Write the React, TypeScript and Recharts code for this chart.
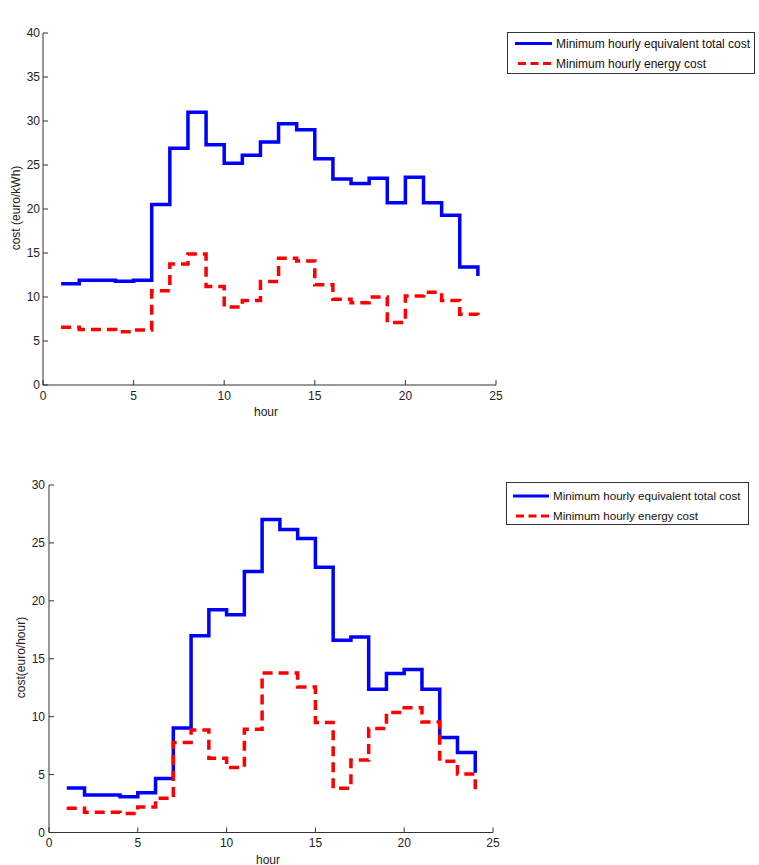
import { LineChart, Line, XAxis, YAxis, Label } from 'recharts';

const FONT = '"Liberation Sans", Arial, sans-serif';

// hours 1..24 (stairs: value i holds from hour i to hour i+1)
const hours = [1, 2, 3, 4, 5, 6, 7, 8, 9, 10, 11, 12, 13, 14, 15, 16, 17, 18, 19, 20, 21, 22, 23, 24];

const springTotal = [11.5, 11.9, 11.9, 11.8, 11.9, 20.5, 26.9, 31.0, 27.3, 25.2, 26.1, 27.6, 29.7, 29.0, 25.7, 23.4, 22.9, 23.5, 20.7, 23.6, 20.7, 19.3, 13.4, 12.4];
const springEnergy = [6.55, 6.3, 6.3, 6.05, 6.25, 10.7, 13.75, 14.9, 11.2, 8.85, 9.6, 11.75, 14.4, 14.1, 11.4, 9.75, 9.35, 10.0, 7.1, 10.1, 10.55, 9.6, 8.05, 7.5];

const summerTotal = [3.84, 3.23, 3.23, 3.09, 3.43, 4.67, 9.03, 16.98, 19.22, 18.79, 22.54, 27.03, 26.16, 25.39, 22.91, 16.59, 16.88, 12.37, 13.72, 14.07, 12.37, 8.2, 6.91, 5.16];
const summerEnergy = [2.09, 1.74, 1.74, 1.65, 2.2, 2.95, 7.78, 8.84, 6.4, 5.62, 8.92, 13.78, 13.78, 12.57, 9.5, 3.81, 6.25, 8.98, 10.36, 10.76, 9.55, 6.16, 5.04, 3.58];

const xTicks = [0, 5, 10, 15, 20, 25];
const springTicks = [0, 5, 10, 15, 20, 25, 30, 35, 40];
const summerTicks = [0, 5, 10, 15, 20, 25, 30];

const seriesNames = ['Minimum hourly equivalent total cost', 'Minimum hourly energy cost'];

const BLUE = '#0000ff';
const RED = '#ff0000';
const AXIS = '#333333';

const fixedText = (x: number, y: number, text: string, rotate = false) => () => (
  <text
    x={x}
    y={y}
    textAnchor="middle"
    fontSize={12}
    fontFamily={FONT}
    fill="#222"
    transform={rotate ? `rotate(-90, ${x}, ${y})` : undefined}
  >
    {text}
  </text>
);

interface PanelProps {
  top: number;
  height: number;
  margin: { top: number; right: number; bottom: number; left: number };
  yWidth: number;
  yTickMargin: number;
  total: number[];
  energy: number[];
  yMax: number;
  yTicks: number[];
  title: [number, number, string];
  xLabel: [number, number, string];
  yLabel: [number, number, string];
}

function Panel(p: PanelProps) {
  const data = hours.map((h, i) => ({ hour: h, total: p.total[i], energy: p.energy[i] }));
  const tickStyle = { fontSize: 12, fill: '#222', fontFamily: FONT };
  return (
    <div style={{ position: 'absolute', left: 0, top: p.top }}>
      <LineChart width={759} height={p.height} data={data} margin={p.margin}>
        <XAxis
          dataKey="hour"
          type="number"
          domain={[0, 25]}
          ticks={xTicks}
          height={30}
          tick={tickStyle}
          tickSize={-5}
          tickMargin={11}
          axisLine={{ stroke: AXIS }}
          tickLine={{ stroke: AXIS }}
        >
          <Label content={fixedText(p.xLabel[0], p.xLabel[1], p.xLabel[2])} />
        </XAxis>
        <XAxis
          xAxisId="top"
          orientation="top"
          dataKey="hour"
          type="number"
          domain={[0, 25]}
          ticks={xTicks}
          height={0}
          tick={false}
          tickSize={-5}
          axisLine={{ stroke: AXIS }}
          tickLine={{ stroke: AXIS }}
        >
          <Label content={fixedText(p.title[0], p.title[1], p.title[2])} />
        </XAxis>
        <YAxis
          type="number"
          domain={[0, p.yMax]}
          ticks={p.yTicks}
          width={p.yWidth}
          tick={tickStyle}
          tickSize={-5}
          tickMargin={p.yTickMargin}
          axisLine={{ stroke: AXIS }}
          tickLine={{ stroke: AXIS }}
        >
          <Label content={fixedText(p.yLabel[0], p.yLabel[1], p.yLabel[2], true)} />
        </YAxis>
        <YAxis
          yAxisId="right"
          orientation="right"
          type="number"
          domain={[0, p.yMax]}
          ticks={p.yTicks}
          width={0}
          tick={false}
          tickSize={-5}
          axisLine={{ stroke: AXIS }}
          tickLine={{ stroke: AXIS }}
        />
        <Line
          xAxisId="top"
          yAxisId="right"
          dataKey="total"
          stroke="none"
          dot={false}
          activeDot={false}
          legendType="none"
          isAnimationActive={false}
        />
        <Line
          type="stepAfter"
          dataKey="total"
          name={seriesNames[0]}
          stroke={BLUE}
          strokeWidth={3.5}
          dot={false}
          activeDot={false}
          isAnimationActive={false}
        />
        <Line
          type="stepAfter"
          dataKey="energy"
          name={seriesNames[1]}
          stroke={RED}
          strokeWidth={3.5}
          strokeDasharray="10 6"
          dot={false}
          activeDot={false}
          isAnimationActive={false}
        />
      </LineChart>
    </div>
  );
}

function LegendBox({ x, y, w, h, rows, lineX, textX, fontSize }: {
  x: number; y: number; w: number; h: number; rows: [number, number]; lineX: [number, number]; textX: number; fontSize: number;
}) {
  return (
    <svg
      width={w + 2}
      height={h + 2}
      style={{ position: 'absolute', left: x - 1, top: y - 1 }}
    >
      <rect x={1.5} y={1.5} width={w - 1} height={h - 1} fill="#fff" stroke={AXIS} strokeWidth={1} />
      <line x1={lineX[0] - x + 1} x2={lineX[1] - x + 1} y1={rows[0] - y + 1} y2={rows[0] - y + 1} stroke={BLUE} strokeWidth={3} />
      <line x1={lineX[0] - x + 4} x2={lineX[1] - x + 1} y1={rows[1] - y + 1} y2={rows[1] - y + 1} stroke={RED} strokeWidth={3} strokeDasharray="8 4.5" />
      {seriesNames.map((n, i) => (
        <text key={n} x={textX - x + 1} y={rows[i] - y + 1 + 4.3} fontSize={fontSize} fontFamily={FONT} fill="#111">
          {n}
        </text>
      ))}
    </svg>
  );
}

export default function App() {
  return (
    <div style={{ position: 'absolute', left: 0, top: 0, width: 759, height: 865, background: '#fff' }}>
      <Panel
        top={0}
        height={440}
        margin={{ top: 33, right: 263, bottom: 25, left: 0 }}
        yWidth={43}
        yTickMargin={8}
        total={springTotal}
        energy={springEnergy}
        yMax={40}
        yTicks={springTicks}
        title={[269.5, 22, 'spring/autumn']}
        xLabel={[266, 416, 'hour']}
        yLabel={[20, 208, 'cost (euro/kWh)']}
      />
      <Panel
        top={440}
        height={425}
        margin={{ top: 45, right: 266, bottom: 2.5, left: 0 }}
        yWidth={49}
        yTickMargin={9}
        total={summerTotal}
        energy={summerEnergy}
        yMax={30}
        yTicks={summerTicks}
        title={[271, 34, 'summer']}
        xLabel={[268, 423.5, 'hour']}
        yLabel={[25, 217.5, 'cost(euro/hour)']}
      />
      <LegendBox x={507} y={32} w={248} h={42} rows={[43.5, 63.5]} lineX={[515, 552]} textX={556} fontSize={12} />
      <LegendBox x={506} y={482} w={243} h={43} rows={[496, 516]} lineX={[513, 549]} textX={553} fontSize={11.6} />
    </div>
  );
}
